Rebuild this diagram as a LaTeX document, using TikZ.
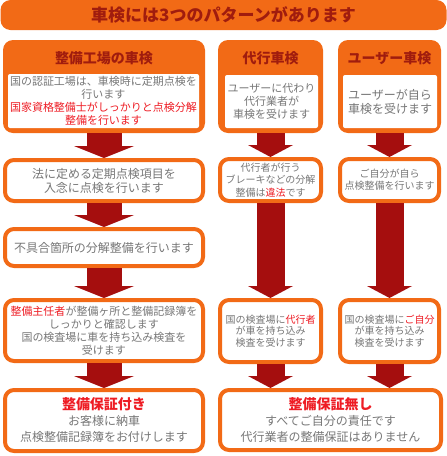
\documentclass[tikz,border=0pt]{standalone}
\usepackage{fontspec}
\setmainfont{Noto Sans CJK JP}
\usetikzlibrary{arrows.meta}
\definecolor{orng}{HTML}{F26A16}
\definecolor{ared}{HTML}{A50E0E}
\definecolor{hred}{HTML}{A01C0E}
\definecolor{txtg}{HTML}{777777}
\definecolor{rtxt}{HTML}{EE1C24}
\newcommand\redtxt[1]{\textcolor{rtxt}{#1}}
\newcommand\fs[2]{\fontsize{#1}{#2}\selectfont}
\begin{document}
\begin{tikzpicture}[x=1pt,y=-1pt,line join=round,
  head/.style={fill=orng,rounded corners=10pt,inner sep=0pt},
  headtxt/.style={text=hred,font=\fs{14}{16}\bfseries,inner sep=0pt},
  inbox/.style={fill=white,rounded corners=2pt,inner sep=0pt,align=center,text=txtg},
  box/.style={draw=orng,line width=4pt,fill=white,rounded corners=9pt,inner sep=0pt,align=center,text=txtg},
  fat/.style={ared,line width=35pt,-{Triangle[width=60pt,length=12pt,line width=0pt]}},
  slim/.style={ared,line width=28pt,-{Triangle[width=45pt,length=12pt,line width=0pt]}}]
\useasboundingbox (0,0) rectangle (447,456);
\def\xl{104} \def\xm{270.5} \def\xr{389.5}
% title bar
\node[head,minimum width=446,minimum height=30,text=hred,font=\fs{17}{19}\bfseries] (ttl) at (223.5,15) {車検には3つのパターンがあります};
% header boxes
\node[head,minimum width=202,minimum height=93] (kojo) at (\xl,86.5) {};
\node[headtxt] (kojoT) at (\xl,58) {整備工場の車検};
\node[inbox,minimum width=191,minimum height=54,font=\fs{11}{12.8}] (kojoB) at (103.5,101) {国の認証工場は、車検時に定期点検を\\行います\\\redtxt{国家資格整備士がしっかりと点検分解}\\\redtxt{整備を行います}};
\node[head,minimum width=105,minimum height=93] (daiko) at (\xm,86.5) {};
\node[headtxt] (daikoT) at (\xm,58) {代行車検};
\node[inbox,minimum width=93,minimum height=53,font=\fs{11}{13}] (daikoB) at (271.5,101.5) {ユーザーに代わり\\代行業者が\\車検を受けます};
\node[head,minimum width=103,minimum height=93] (user) at (\xr,86.5) {};
\node[headtxt] (userT) at (\xr,58) {ユーザー車検};
\node[inbox,minimum width=94,minimum height=53,font=\fs{12}{14}] (userB) at (390,101.5) {ユーザーが自ら\\車検を受けます};
% left column
\node[box,minimum width=198,minimum height=41,font=\fs{12}{14}] (tenken) at (\xl,180.5) {法に定める定期点検項目を\\入念に点検を行います};
\node[box,minimum width=198,minimum height=37,font=\fs{12}{14}] (bunkai) at (\xl,247.5) {不具合箇所の分解整備を行います};
\node[box,minimum width=198,minimum height=61,font=\fs{11}{13}] (kakunin) at (\xl,330.5) {\redtxt{整備主任者}が整備ヶ所と整備記録簿を\\しっかりと確認します\\国の検査場に車を持ち込み検査を\\受けます};
\node[box,minimum width=198,minimum height=61,font=\fs{12}{16}] (hosho) at (\xl,420.5) {{\fs{14}{16}\bfseries\color{rtxt}整備保証付き}\\お客様に納車\\点検整備記録簿をお付けします};
% middle and right columns
\node[box,minimum width=101,minimum height=42,font=\fs{10}{12.5}] (ihou) at (\xm,180) {代行者が行う\\ブレーキなどの分解\\整備は\redtxt{違法}です};
\node[box,minimum width=99,minimum height=42,font=\fs{10}{12}] (jibun) at (\xr,180) {ご自分が自ら\\点検整備を行います};
\node[box,minimum width=101,minimum height=62,font=\fs{10}{11.5}] (daikoK) at (\xm,331) {国の検査場に\redtxt{代行者}\\が車を持ち込み\\検査を受けます};
\node[box,minimum width=99,minimum height=62,font=\fs{10}{11.5}] (userK) at (\xr,331) {国の検査場に\redtxt{ご自分}\\が車を持ち込み\\検査を受けます};
\node[box,minimum width=221,minimum height=60,font=\fs{12}{16}] (nashi) at (330.5,420) {{\fs{14}{16}\bfseries\color{rtxt}整備保証無し}\\すべてご自分の責任です\\代行業者の整備保証はありません};
% arrows
\draw[fat] (kojo.south) -- (tenken.north);
\draw[fat] (tenken.south) -- (bunkai.north);
\draw[fat] (bunkai.south) -- (kakunin.north);
\draw[fat] (kakunin.south) -- (hosho.north);
\draw[slim] (daiko.south) -- (ihou.north);
\draw[slim] (ihou.south) -- (daikoK.north);
\draw[slim] (daikoK.south) -- (daikoK.south |- nashi.north);
\draw[slim] (user.south) -- (jibun.north);
\draw[slim] (jibun.south) -- (userK.north);
\draw[slim] (userK.south) -- (userK.south |- nashi.north);
\end{tikzpicture}
\end{document}
